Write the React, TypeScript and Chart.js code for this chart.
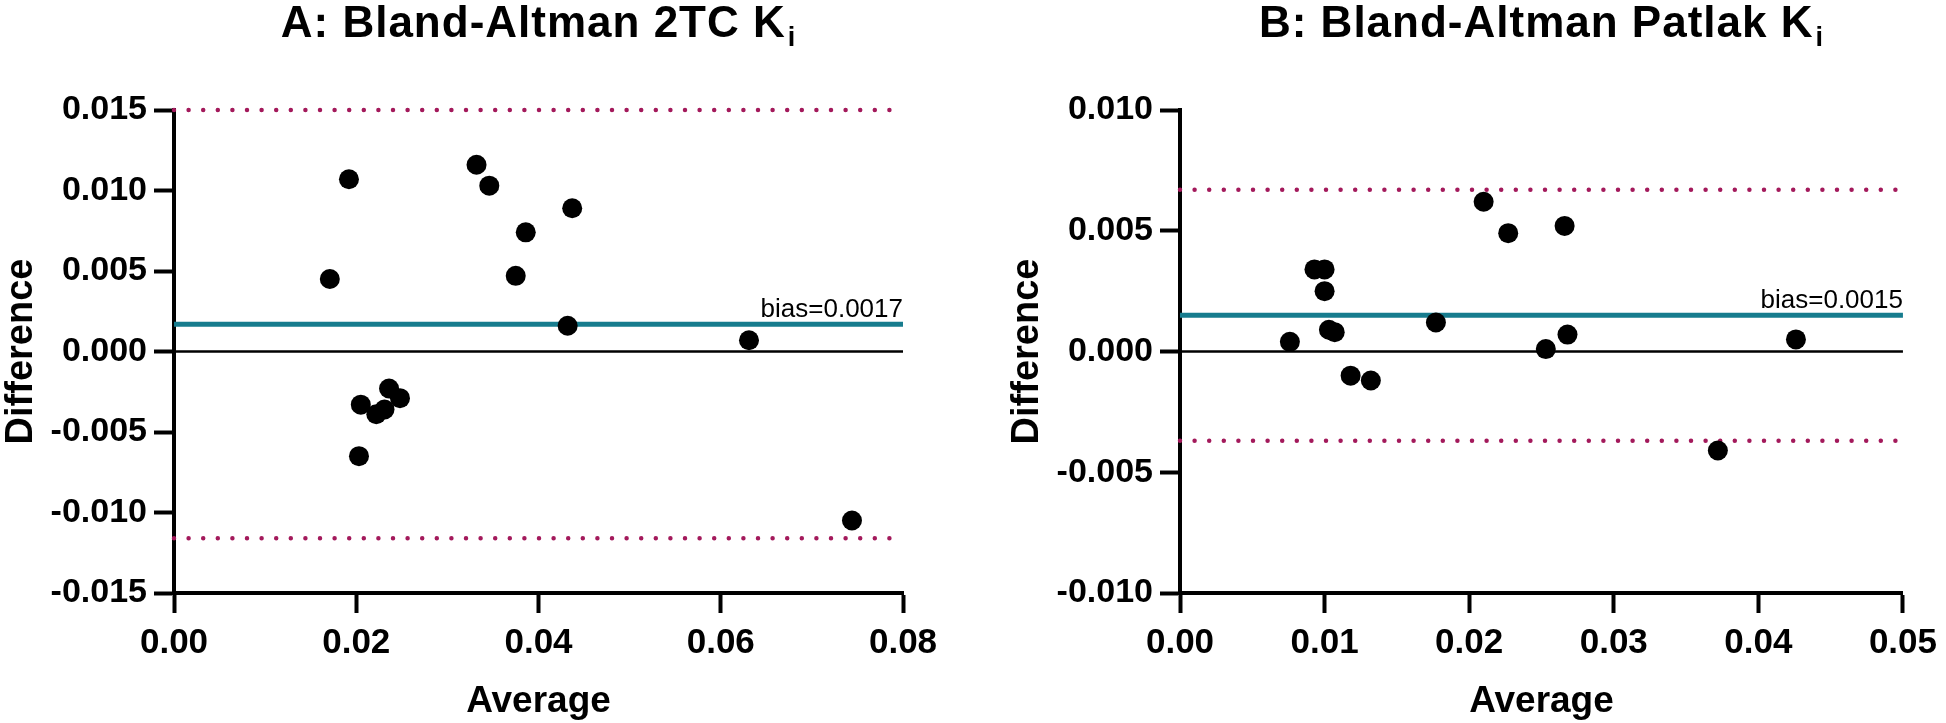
import React, { useEffect, useRef } from 'react';
import { Chart, registerables } from 'chart.js';

Chart.register(...registerables);

// ---------- Data ----------
// Panel A: Bland-Altman 2TC Ki
const avgA = [0.0171, 0.0192, 0.0203, 0.0205, 0.0222, 0.0231, 0.0236, 0.0248, 0.0332, 0.0346, 0.0375, 0.0386, 0.0432, 0.0437, 0.0631, 0.0744];
const diffA = [0.0045, 0.0107, -0.0065, -0.0033, -0.0039, -0.0036, -0.0023, -0.0029, 0.0116, 0.0103, 0.0047, 0.0074, 0.0016, 0.0089, 0.0007, -0.0105];
const biasA = 0.0017;
const loaA = [0.0150, -0.0116];
const xTicksA = [0, 0.02, 0.04, 0.06, 0.08];
const xTickLabelsA = ['0.00', '0.02', '0.04', '0.06', '0.08'];
const yTicksA = [-0.015, -0.01, -0.005, 0, 0.005, 0.01, 0.015];
const yTickLabelsA = ['-0.015', '-0.010', '-0.005', '0.000', '0.005', '0.010', '0.015'];

// Panel B: Bland-Altman Patlak Ki
const avgB = [0.0076, 0.0093, 0.0100, 0.0100, 0.0103, 0.0107, 0.0118, 0.0132, 0.0177, 0.0210, 0.0227, 0.0253, 0.0266, 0.0268, 0.0372, 0.0426];
const diffB = [0.0004, 0.0034, 0.0034, 0.0025, 0.0009, 0.0008, -0.0010, -0.0012, 0.0012, 0.0062, 0.0049, 0.0001, 0.0052, 0.0007, -0.0041, 0.0005];
const biasB = 0.0015;
const loaB = [0.0067, -0.0037];
const xTicksB = [0, 0.01, 0.02, 0.03, 0.04, 0.05];
const xTickLabelsB = ['0.00', '0.01', '0.02', '0.03', '0.04', '0.05'];
const yTicksB = [-0.01, -0.005, 0, 0.005, 0.01];
const yTickLabelsB = ['-0.010', '-0.005', '0.000', '0.005', '0.010'];

const titleA = 'A: Bland-Altman 2TC K';
const titleB = 'B: Bland-Altman Patlak K';
const titleSub = 'i';
const xTitle = 'Average';
const yTitle = 'Difference';

// ---------- Styling ----------
const FONT = '"Liberation Sans", Arial, Helvetica, sans-serif';
const DOT_COLOR = '#A3195B';
const BIAS_COLOR = '#177C8E';

type PanelProps = {
  left: number;
  avg: number[];
  diff: number[];
  bias: number;
  loa: number[];
  xTicks: number[];
  xLabels: string[];
  yTicks: number[];
  yLabels: string[];
  title: string;
  axisLeft: number;
  padRight: number;
};

function Panel(p: PanelProps) {
  const ref = useRef<HTMLCanvasElement>(null);
  useEffect(() => {
    const xMin = p.xTicks[0];
    const xMax = p.xTicks[p.xTicks.length - 1];
    const yMin = p.yTicks[0];
    const yMax = p.yTicks[p.yTicks.length - 1];
    const hline = (v: number) => [{ x: xMin, y: v }, { x: xMax, y: v }];

    const textPlugin = {
      id: 'panelTexts',
      afterDraw(chart: any) {
        const ctx = chart.ctx as CanvasRenderingContext2D;
        const a = chart.chartArea;
        const cx = (a.left + a.right) / 2;
        ctx.save();
        ctx.fillStyle = '#000';
        // Title with subscript
        ctx.textAlign = 'left';
        ctx.textBaseline = 'alphabetic';
        (ctx as any).letterSpacing = '1px';
        ctx.font = `bold 44px ${FONT}`;
        const w1 = ctx.measureText(p.title).width;
        ctx.font = `bold 27px ${FONT}`;
        const w2 = ctx.measureText(titleSub).width;
        const x0 = cx - (w1 + w2 + 2) / 2;
        ctx.font = `bold 44px ${FONT}`;
        ctx.fillText(p.title, x0, 37);
        ctx.font = `bold 27px ${FONT}`;
        ctx.fillText(titleSub, x0 + w1 + 2, 46);
        (ctx as any).letterSpacing = '0px';
        // X axis title
        ctx.textAlign = 'center';
        ctx.font = `bold 37px ${FONT}`;
        ctx.fillText(xTitle, cx, 712);
        // Y axis title (rotated)
        ctx.save();
        ctx.translate(a.left - 142, (a.top + a.bottom) / 2);
        ctx.rotate(-Math.PI / 2);
        ctx.font = `bold 38px ${FONT}`;
        ctx.fillText(yTitle, 0, 0);
        ctx.restore();
        // Bias label
        const yb = chart.scales.y.getPixelForValue(p.bias);
        ctx.textAlign = 'right';
        ctx.font = `26px ${FONT}`;
        ctx.fillText(`bias=${p.bias.toFixed(4)}`, a.right, yb - 7);
        ctx.restore();
      },
    };

    const chart = new Chart(ref.current!, {
      type: 'scatter',
      data: {
        datasets: [
          {
            label: 'points',
            data: p.avg.map((x, i) => ({ x, y: p.diff[i] })),
            backgroundColor: '#000',
            borderWidth: 0,
            pointRadius: 10,
            order: 0,
          } as any,
          {
            label: 'bias',
            data: hline(p.bias),
            showLine: true,
            borderColor: BIAS_COLOR,
            borderWidth: 5,
            pointRadius: 0,
            order: 1,
            clip: false,
          },
          {
            label: 'zero',
            data: hline(0),
            showLine: true,
            borderColor: '#000',
            borderWidth: 2.5,
            pointRadius: 0,
            order: 2,
            clip: false,
          },
          ...p.loa.map((v, i) => ({
            label: 'loa' + i,
            data: hline(v),
            showLine: true,
            borderColor: DOT_COLOR,
            borderWidth: 4.5,
            borderDash: [0, 14.6],
            borderCapStyle: 'round',
            pointRadius: 0,
            order: 3,
            clip: false,
          })),
        ] as any,
      },
      options: {
        responsive: false,
        animation: false,
        devicePixelRatio: 1,
        layout: { padding: { top: 110, right: p.padRight, left: 0, bottom: 0 } },
        plugins: { legend: { display: false }, tooltip: { enabled: false } },
        scales: {
          x: {
            type: 'linear',
            min: xMin,
            max: xMax,
            afterBuildTicks: (s: any) => { s.ticks = p.xTicks.map((v) => ({ value: v })); },
            afterFit: (s: any) => { s.height = 130; },
            ticks: {
              autoSkip: false,
              maxRotation: 0,
              padding: 9,
              color: '#000',
              font: { family: FONT, size: 35, weight: 'bold' },
              callback: (_v: any, i: number) => p.xLabels[i],
            },
            grid: { display: true, drawOnChartArea: false, drawTicks: true, tickLength: 20, tickWidth: 4, color: '#000', tickColor: '#000' },
            border: { display: true, color: '#000', width: 4 },
          },
          y: {
            type: 'linear',
            min: yMin,
            max: yMax,
            afterBuildTicks: (s: any) => { s.ticks = p.yTicks.map((v) => ({ value: v })); },
            afterFit: (s: any) => { s.width = p.axisLeft; },
            ticks: {
              autoSkip: false,
              padding: 7,
              color: '#000',
              font: { family: FONT, size: 34, weight: 'bold' },
              callback: (_v: any, i: number) => p.yLabels[i],
            },
            grid: { display: true, drawOnChartArea: false, drawTicks: true, tickLength: 20, tickWidth: 4, color: '#000', tickColor: '#000' },
            border: { display: true, color: '#000', width: 4 },
          },
        } as any,
      },
      plugins: [textPlugin],
    });
    return () => chart.destroy();
  }, []);
  return (
    <canvas
      ref={ref}
      width={973}
      height={723}
      style={{ position: 'absolute', left: p.left, top: 0, width: 973, height: 723 }}
    />
  );
}

export default function App() {
  useEffect(() => {
    document.body.style.margin = '0';
  }, []);
  return (
    <div style={{ position: 'absolute', left: 0, top: 0, width: 1946, height: 723, background: '#fff', overflow: 'hidden' }}>
      <Panel left={0} avg={avgA} diff={diffA} bias={biasA} loa={loaA} xTicks={xTicksA} xLabels={xTickLabelsA}
        yTicks={yTicksA} yLabels={yTickLabelsA} title={titleA} axisLeft={174} padRight={70} />
      <Panel left={973} avg={avgB} diff={diffB} bias={biasB} loa={loaB} xTicks={xTicksB} xLabels={xTickLabelsB}
        yTicks={yTicksB} yLabels={yTickLabelsB} title={titleB} axisLeft={207} padRight={37} />
    </div>
  );
}
